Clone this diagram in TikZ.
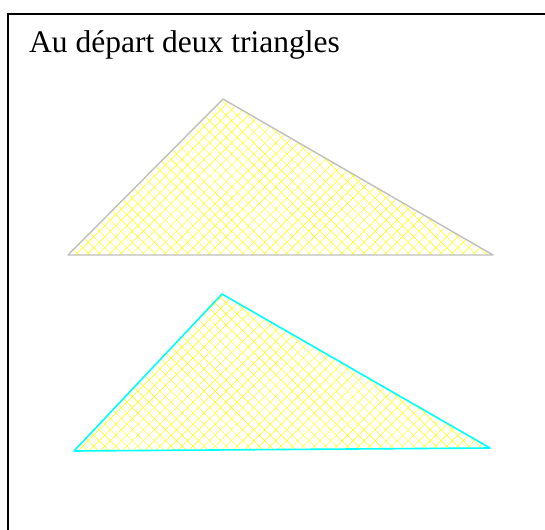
\documentclass[tikz,border=0pt]{standalone}
\usepackage{fontspec}
\setmainfont{Liberation Serif}
\usetikzlibrary{patterns.meta}
\definecolor{cyanvif}{RGB}{0,255,255}
\definecolor{jaunevif}{RGB}{255,255,0}

\begin{document}
\begin{tikzpicture}[
    x=1pt, y=-1pt,
    cadre/.style    = {draw=black, line width=2pt},
    hachureA/.style = {pattern={Lines[angle=45, distance=7.8pt, line width=0.45pt]},
                       pattern color=jaunevif},
    hachureB/.style = {pattern={Lines[angle=-45, distance=7.8pt, line width=0.45pt]},
                       pattern color=jaunevif},
    bordgris/.style = {draw=black!25, line width=1.4pt, line join=round},
    bordcyan/.style = {draw=cyanvif, line width=1.6pt, line join=round},
  ]
  \useasboundingbox (0,0) rectangle (545,529);
  \clip (0,0) rectangle (545,529);
  % cadre et titre
  \draw[cadre] (8,14) rectangle (560,545);
  \node[anchor=base west, inner sep=0pt, font=\fontsize{31.5}{36}\selectfont]
    (titre) at (29,53) {Au départ deux triangles};
  % premier triangle
  \coordinate (S1) at (223,99);
  \coordinate (G1) at (68,255);
  \coordinate (D1) at (493,255);
  \fill[hachureA] (S1) -- (G1) -- (D1) -- cycle;
  \fill[hachureB] (S1) -- (G1) -- (D1) -- cycle;
  \draw[bordgris] (S1) -- (G1) -- (D1) -- cycle;
  % second triangle
  \coordinate (S2) at (222,294);
  \coordinate (G2) at (74,451);
  \coordinate (D2) at (490,448);
  \fill[hachureA] (S2) -- (G2) -- (D2) -- cycle;
  \fill[hachureB] (S2) -- (G2) -- (D2) -- cycle;
  \draw[bordcyan] (S2) -- (G2) -- (D2) -- cycle;
\end{tikzpicture}
\end{document}
